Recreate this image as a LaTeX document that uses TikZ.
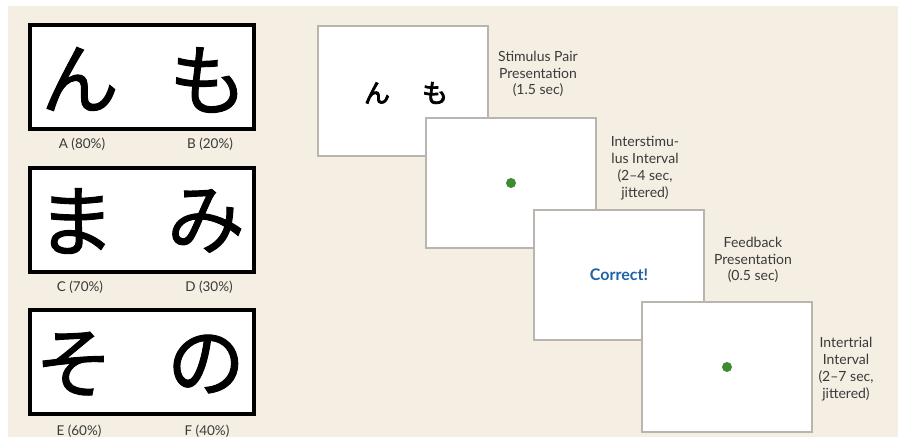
\documentclass[tikz,border=0pt]{standalone}
\usepackage{fontspec}
\setmainfont{Lato}
\newfontfamily\jpfont[FakeBold=1.2]{Noto Sans CJK JP}
\newfontfamily\jpbrush[FakeBold=3]{Noto Sans CJK JP}
\usepackage{xcolor}
\definecolor{Paper}{HTML}{F4EEE3}
\definecolor{Frame}{HTML}{B9B4AD}
\definecolor{Ink}{HTML}{3A3A3A}
\definecolor{DotGreen}{HTML}{3F8B2F}
\definecolor{CorrectBlue}{HTML}{1F63A8}
\tikzset{
  kanabox/.style={draw=black, line width=4pt, fill=white, minimum width=224pt, minimum height=104pt, inner sep=0pt},
  kana/.style={font=\jpfont\fontsize{78}{78}\selectfont, inner sep=0pt},
  choice/.style={text=Ink, font=\fontsize{13.5}{15}\selectfont, inner sep=0pt},
  screen/.style={draw=Frame, line width=2pt, fill=white, minimum width=170pt, minimum height=130pt, inner sep=0pt},
  phase/.style={text=Ink, align=center, font=\fontsize{14}{16.8}\selectfont, inner sep=0pt},
  fixdot/.style={circle, fill=DotGreen, minimum size=10pt, inner sep=0pt}
}
\begin{document}
\begin{tikzpicture}[x=1pt, y=-1pt]
\useasboundingbox (0,0) rectangle (898,443);
\fill[Paper] (8,6) rectangle (898,437);

% stimulus pairs with reward probabilities
\node[kanabox] (pairAB) at (142,77.5) {};
\node[kana] (kA) at (80,79) {ん};
\node[kana] (kB) at (208,80) {も};
\node[choice] (labA) at (82,144) {A (80\%)};
\node[choice] (labB) at (210,144) {B (20\%)};

\node[kanabox] (pairCD) at (142,220) {};
\node[kana] (kC) at (76,221) {ま};
\node[kana] (kD) at (206,221) {み};
\node[choice] (labC) at (80,287) {C (70\%)};
\node[choice] (labD) at (209,287) {D (30\%)};

\node[kanabox] (pairEF) at (142,362.5) {};
\node[kana] (kE) at (74,364) {そ};
\node[kana] (kF) at (206,364) {の};
\node[choice] (labE) at (79,431) {E (60\%)};
\node[choice] (labF) at (207,431) {F (40\%)};

% trial sequence
\node[screen] (scr1) at (403,91) {};
\node[font=\jpbrush\fontsize{26}{26}\selectfont, inner sep=0pt] (s1L) at (377,93) {ん};
\node[font=\jpbrush\fontsize{26}{26}\selectfont, inner sep=0pt] (s1R) at (435,93) {も};
\node[phase] (cap1) at (538,74) {Stimulus Pair\\Presentation\\(1.5 sec)};

\node[screen] (scr2) at (511,183) {};
\node[fixdot] (dot2) at (scr2.center) {};
\node[phase] (cap2) at (645,168) {Interstimu-\\lus Interval\\(2--4 sec,\\jittered)};

\node[screen, text=CorrectBlue, font=\bfseries\fontsize{16}{16}\selectfont] (scr3) at (619,275) {Correct!};
\node[phase] (cap3) at (753,260) {Feedback\\Presentation\\(0.5 sec)};

\node[screen] (scr4) at (727,367) {};
\node[fixdot] (dot4) at (scr4.center) {};
\node[phase] (cap4) at (846,369) {Intertrial\\Interval\\(2--7 sec,\\jittered)};
\end{tikzpicture}
\end{document}
